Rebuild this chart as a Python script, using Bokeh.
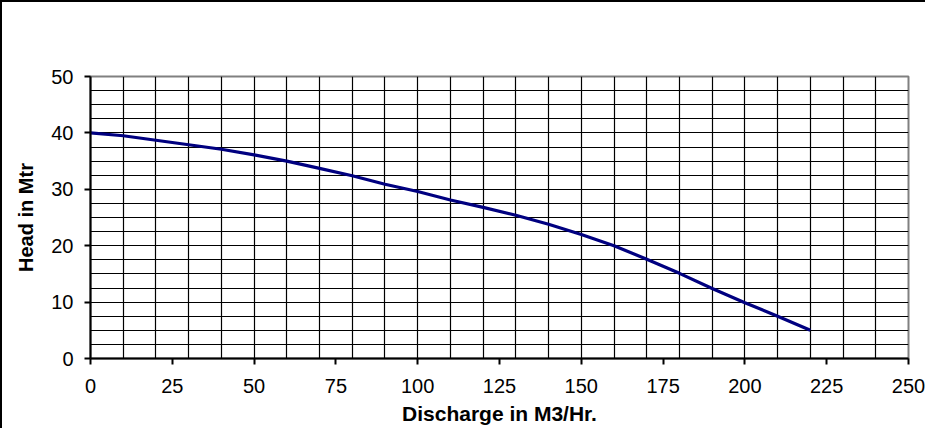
from bokeh.plotting import figure
from bokeh.models import Range1d, FixedTicker
from bokeh.embed import file_html
from bokeh.resources import INLINE

# Data
discharge = [0, 10, 20, 30, 40, 50, 60, 70, 80, 90, 100, 110, 120, 130, 140,
             150, 160, 170, 180, 190, 200, 210, 220]
head = [40.0, 39.5, 38.7, 37.9, 37.1, 36.1, 35.0, 33.7, 32.4, 30.9, 29.6, 28.1,
        26.8, 25.4, 23.8, 22.0, 20.0, 17.6, 15.1, 12.4, 9.9, 7.5, 5.0]

x_ticks = [0, 25, 50, 75, 100, 125, 150, 175, 200, 225, 250]
y_ticks = [0, 10, 20, 30, 40, 50]
x_grid = [10 * i for i in range(1, 25)]
y_grid = [2.5 * i for i in range(1, 20)]

FONT = "Liberation Sans"

p = figure(width=925, height=428, x_range=Range1d(0, 250), y_range=Range1d(0, 50),
           output_backend="svg", toolbar_location=None,
           min_border_left=88, min_border_right=19, min_border_top=74,
           min_border_bottom=72)
p.styles = {"border-left": "2px solid #000000", "border-top": "2px solid #000000"}
p.background_fill_color = "white"
p.border_fill_color = "white"
p.outline_line_color = "#808080"
p.outline_line_width = 2

p.xgrid.ticker = FixedTicker(ticks=x_grid)
p.ygrid.ticker = FixedTicker(ticks=y_grid)
for g in (p.xgrid, p.ygrid):
    g.grid_line_color = "black"
    g.grid_line_width = 1.2
    g.grid_line_alpha = 1.0

for ax, ticks in ((p.xaxis, x_ticks), (p.yaxis, y_ticks)):
    ax.ticker = FixedTicker(ticks=ticks)
    ax.axis_line_color = "black"
    ax.axis_line_width = 2
    ax.major_tick_line_color = "black"
    ax.major_tick_line_width = 2
    ax.major_tick_in = 0
    ax.major_tick_out = 6
    ax.minor_tick_line_color = None
    ax.major_label_text_font = FONT
    ax.major_label_text_font_size = "20px"
    ax.major_label_text_color = "black"
    ax.axis_label_text_font = FONT
    ax.axis_label_text_font_style = "bold"
    ax.axis_label_text_color = "black"

p.xaxis.axis_label = "Discharge in M3/Hr."
p.yaxis.axis_label = "Head in Mtr"
p.xaxis.axis_label_text_font_size = "21px"
p.yaxis.axis_label_text_font_size = "20px"
p.xaxis.major_label_standoff = 14
p.yaxis.major_label_standoff = 11
p.xaxis.axis_label_standoff = 6
p.yaxis.axis_label_standoff = 11

p.line(discharge, head, line_color="#000080", line_width=3.2)

open("out.html", "w").write(file_html(p, INLINE))
